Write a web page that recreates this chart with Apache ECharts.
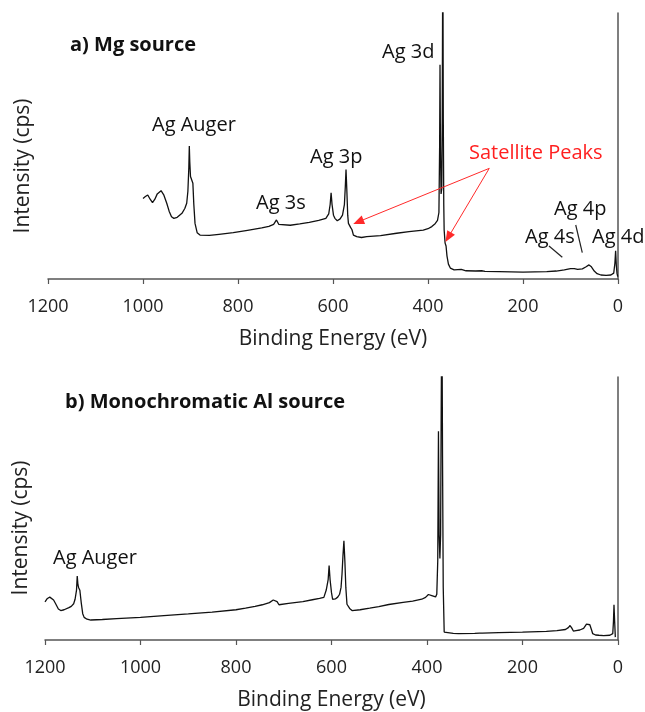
<!DOCTYPE html>
<html>
<head>
<meta charset="utf-8">
<script src="https://cdn.jsdelivr.net/npm/echarts@6/dist/echarts.min.js"></script>
<style>
body { margin: 0; background: #fff; }
#chart { width: 645px; height: 712px; }
</style>
</head>
<body>
<div id="chart"></div>
<script>
// binding energy (eV) and intensity (arb. units, 0-100 = axis height)
var mgEnergy = [1000, 995, 990, 985, 980, 975, 970, 962, 956, 950, 945, 940, 935, 928, 918, 912, 908, 905.5, 903.5, 902.5, 901.5, 900, 897, 895, 893, 890.5, 886, 880, 860, 840, 810, 780, 750, 735, 725, 719, 714, 710, 690, 670, 650, 630, 615, 609, 606, 604, 602, 599, 596, 591, 585, 580, 576, 574, 572.6, 571, 569, 567.5, 563, 560, 557, 550, 540, 529, 500, 466, 440, 410, 400, 392, 385, 380, 377, 375.5, 374.7, 373.8, 372.5, 371, 370, 368.8, 367.8, 366.8, 366, 364, 362, 360, 357, 353, 345, 330, 320, 300, 287, 284, 280, 250, 200, 150, 130, 113, 100, 96, 92, 85, 75, 68, 61, 56, 50, 44, 36, 25, 15, 9, 6.5, 5, 3.5, 2, 0.5];
var mgIntensity = [30.3, 31.0, 31.6, 30.0, 28.7, 30.0, 32.0, 33.2, 31.5, 28.5, 25.5, 23.4, 22.8, 23.2, 24.7, 26.5, 28.5, 33, 42, 50, 44, 38.5, 38.7, 36, 28, 20.9, 17.4, 16.5, 16.4, 16.8, 17.4, 18.3, 19.2, 19.8, 20.5, 22.2, 20.5, 19.9, 20.2, 20.7, 21.3, 22.0, 22.8, 24.5, 28, 32.4, 28, 24, 22.8, 21.9, 22.6, 24, 28, 35, 41.2, 34, 24, 20.9, 19.4, 18.5, 16.5, 15.9, 15.6, 15.9, 16.3, 17.2, 17.8, 18.4, 18.9, 19.7, 20.8, 22, 25, 50, 80.5, 50, 32, 34, 60, 130, 60, 28, 18.4, 13.5, 12.4, 8.6, 5.6, 4.1, 3.4, 3.6, 3.1, 3.0, 3.1, 3.8, 2.9, 2.8, 2.6, 2.8, 3.0, 3.4, 3.9, 4.6, 3.9, 3.6, 3.8, 4.5, 5.3, 4.6, 3.0, 2.0, 1.5, 1.4, 1.5, 2.2, 6, 10.6, 5, 2, 0.9];

var alEnergy = [1200, 1195, 1190, 1186, 1182, 1178, 1172, 1167, 1160, 1150, 1145, 1140, 1137, 1134, 1132.5, 1131, 1129.5, 1127, 1124, 1121, 1118, 1112, 1104, 1080, 1050, 1000, 951, 900, 850, 800, 780, 760, 745, 730, 722, 718, 714, 710, 690, 660, 640, 625, 616, 611, 607, 605, 603, 600, 597.7, 592, 587, 583, 580, 578, 576, 574, 572, 570, 567.6, 562, 557, 540, 520, 501, 480, 450, 430, 411, 403, 397, 394, 390, 386, 382, 379.5, 377.5, 376, 374.6, 373, 371.5, 370.2, 368.8, 367.5, 366, 364, 360, 345, 334, 300, 290, 287, 284, 250, 200, 150, 128, 110, 104, 100.4, 97, 93.5, 88, 80, 72, 66, 63, 59, 55, 53, 47, 40, 30, 17, 11, 9.5, 8.4, 7, 5.6];
var alIntensity = [14.5, 15.8, 16.3, 16.2, 15.2, 13.9, 11.8, 11.2, 11.5, 12.3, 12.8, 13.8, 15.5, 19, 24.3, 21, 19.9, 18.9, 14, 10, 8.6, 7.9, 7.6, 7.8, 8.1, 8.6, 9.3, 9.9, 10.6, 11.5, 12.1, 12.8, 13.4, 14.2, 15.2, 15.9, 14.6, 13.4, 13.9, 14.6, 15.3, 15.8, 16.2, 19, 23, 28.3, 23, 18, 15.5, 15.6, 16.3, 17.4, 20, 25, 32, 37.7, 30, 20, 13.6, 12.0, 11.2, 11.5, 12.1, 12.7, 13.5, 14.3, 14.8, 15.5, 16.2, 17.3, 17.4, 16.9, 16.5, 16.4, 17.4, 30, 79.4, 40, 31, 40, 90, 130, 70, 20, 3.0, 2.6, 2.5, 2.4, 2.5, 2.6, 3.3, 2.6, 2.8, 3.0, 3.3, 3.6, 4.0, 4.7, 5.5, 4.6, 3.4, 3.6, 3.8, 4.4, 6.0, 6.4, 5.8, 3.6, 2.4, 1.9, 1.8, 1.7, 1.8, 2.4, 7, 13.4, 7, 1.1];

var xTicks = [0, 200, 400, 600, 800, 1000, 1200];

// annotation lines, [energy, intensity]
var satelliteArrows = [
    [[271, 41.6], [546.7, 21.5]],
    [[271, 41.6], [357.3, 15.7]]
];
var leaderLines = [
    [[145.3, 12.4], [117.3, 8.2]],
    [[89, 20.3], [75.2, 9.9]]
];

function pairs(xs, ys) {
    var out = [];
    for (var i = 0; i < xs.length; i++) out.push([xs[i], ys[i]]);
    return out;
}

function xAxisFor(idx) {
    return {
        type: 'value',
        gridIndex: idx,
        inverse: true,
        min: xTicks[0],
        max: xTicks[xTicks.length - 1],
        interval: xTicks[1] - xTicks[0],
        name: 'Binding Energy (eV)',
        nameLocation: 'middle',
        nameGap: 50,
        nameTextStyle: { fontFamily: 'Open Sans', fontSize: 21, color: '#222' },
        axisLine: { lineStyle: { color: '#555', width: 1.5 } },
        axisTick: { show: true, inside: false, length: 5, lineStyle: { color: '#555', width: 1.2 } },
        axisLabel: {
            fontFamily: 'Open Sans', fontSize: 18, color: '#222', margin: 19,
            formatter: function (v) { return String(v); }
        },
        splitLine: { show: false }
    };
}

function yAxisFor(idx) {
    return {
        type: 'value',
        gridIndex: idx,
        min: 0,
        max: 100,
        axisLine: { show: true, lineStyle: { color: '#555', width: 1.5 } },
        axisTick: { show: false },
        axisLabel: { show: false },
        splitLine: { show: false }
    };
}

var font = '20px "Open Sans"';
var bold = 'bold 20px "Open Sans"';

function label(text, x, y, f, color) {
    return {
        type: 'text',
        x: x,
        y: y,
        style: { text: text, font: f || font, fill: color || '#111', textAlign: 'left', textVerticalAlign: 'middle' }
    };
}

function yName(x, y) {
    return {
        type: 'text',
        x: x,
        y: y,
        rotation: Math.PI / 2,
        style: { text: 'Intensity (cps)', font: '21px "Open Sans"', fill: '#222', textAlign: 'center', textVerticalAlign: 'middle' }
    };
}

var option = {
    animation: false,
    backgroundColor: '#fff',
    grid: [
        { left: 48, right: 27, top: 13, height: 266 },
        { left: 45, right: 27, top: 377, height: 266 }
    ],
    xAxis: [xAxisFor(0), xAxisFor(1)],
    yAxis: [yAxisFor(0), yAxisFor(1)],
    graphic: [
        yName(23, 166),
        yName(21, 528),
        label('a) Mg source', 70, 45, bold),
        label('Ag 3d', 382, 52),
        label('Ag Auger', 152, 125),
        label('Ag 3s', 256, 203),
        label('Ag 3p', 310, 157),
        label('Satellite Peaks', 469, 153, font, '#ff1f1f'),
        label('Ag 4p', 554, 209),
        label('Ag 4s', 525, 237),
        label('Ag 4d', 592, 237),
        label('b) Monochromatic Al source', 65, 402, bold),
        label('Ag Auger', 53, 558)
    ],
    series: [
        {
            type: 'line',
            xAxisIndex: 0,
            yAxisIndex: 0,
            data: pairs(mgEnergy, mgIntensity),
            showSymbol: false,
            lineStyle: { color: '#111', width: 1.3 },
            markLine: {
                silent: true,
                animation: false,
                label: { show: false },
                data: satelliteArrows.map(function (a) {
                    return [
                        { coord: a[0], symbol: 'none' },
                        { coord: a[1], symbol: 'triangle', symbolSize: [9, 11] }
                    ];
                }).concat(leaderLines.map(function (a) {
                    return [
                        { coord: a[0], symbol: 'none', lineStyle: { color: '#222', width: 1.2 } },
                        { coord: a[1], symbol: 'none' }
                    ];
                })),
                lineStyle: { color: '#ff2a2a', width: 1, type: 'solid' },
                itemStyle: { color: '#ff1f1f' }
            }
        },
        {
            type: 'line',
            xAxisIndex: 1,
            yAxisIndex: 1,
            data: pairs(alEnergy, alIntensity),
            showSymbol: false,
            lineStyle: { color: '#111', width: 1.3 }
        }
    ]
};

var chart = echarts.init(document.getElementById('chart'));
chart.setOption(option);
</script>
</body>
</html>
